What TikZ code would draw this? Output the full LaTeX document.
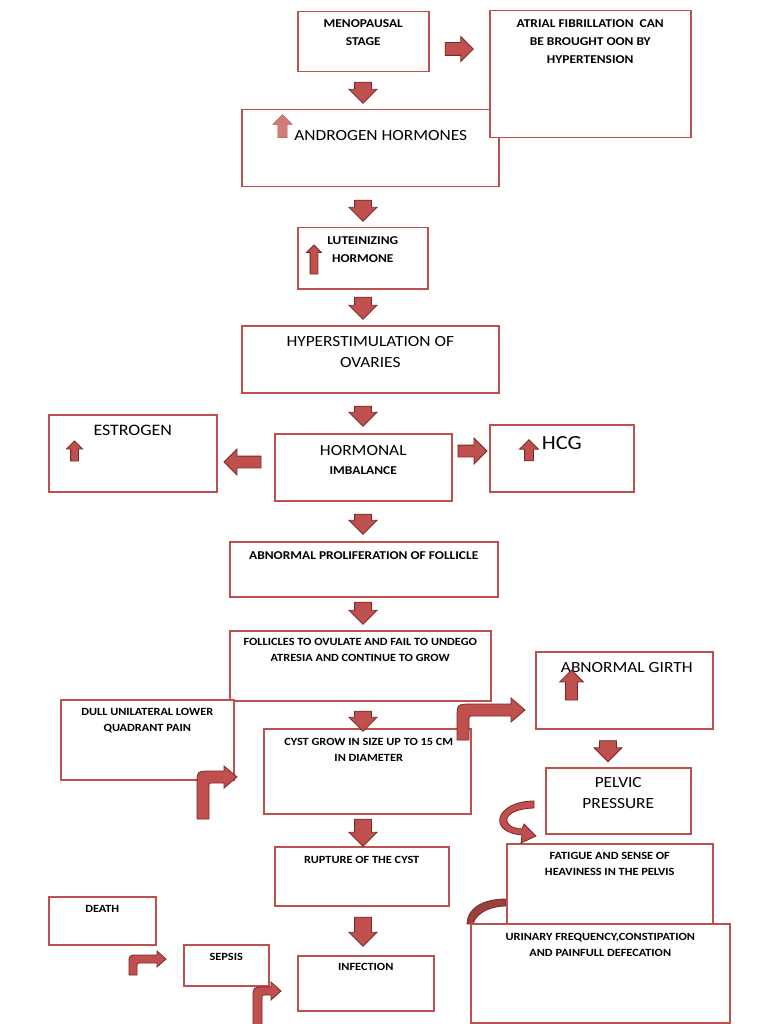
\documentclass[tikz,border=0pt]{standalone}
\usepackage{fontspec}
\setmainfont{Carlito}[FakeStretch=1.12]
\usetikzlibrary{shapes.arrows}
\definecolor{boxred}{RGB}{192,80,77}
\definecolor{arrowred}{RGB}{192,80,77}
\definecolor{arrowdark}{RGB}{120,42,40}

\tikzset{
  box/.style={draw=boxred,line width=1.5pt,fill=white,anchor=north west,inner sep=0pt},
  smalltext/.style={font=\bfseries\fontsize{12}{18}\selectfont,align=center,inner sep=0pt,anchor=north},
  lowtext/.style={font=\bfseries\fontsize{11}{15.5}\selectfont,align=center,inner sep=0pt,anchor=north},
  bigtext/.style={font=\fontsize{15.5}{21}\selectfont,align=center,inner sep=0pt,anchor=north},
  blockarrow/.style={single arrow,draw=arrowdark,fill=arrowred,line width=0.8pt,inner xsep=0pt},
  downarrow/.style={blockarrow,rotate=-90,inner ysep=8pt,single arrow head extend=5.5pt},
  uparrow/.style={blockarrow,rotate=90},
  bentarrow/.style={draw=arrowdark,fill=arrowred,line width=0.8pt},
}

\begin{document}
\begin{tikzpicture}[x=1pt,y=-1pt]
  \useasboundingbox[fill=white] (0,0) rectangle (768,1024);

  % upper chain
  \node[box,minimum width=131,minimum height=60,label={[smalltext,yshift=-8pt]north:MENOPAUSAL\\STAGE}] (meno) at (297,11) {};
  \node[box,minimum width=257,minimum height=77,label={[bigtext,yshift=-21pt,xshift=10.5pt]north:ANDROGEN HORMONES}] (andro) at (241,109) {};
  \node[box,minimum width=201,minimum height=127,label={[smalltext,yshift=-9pt]north:ATRIAL FIBRILLATION~ CAN\\BE BROUGHT OON BY\\HYPERTENSION}] (atrial) at (489,10) {};
  \node[box,minimum width=130,minimum height=61,label={[smalltext,yshift=-9pt]north:LUTEINIZING\\HORMONE}] (lh) at (297,227) {};
  \node[box,minimum width=257,minimum height=67,label={[bigtext,yshift=-11pt]north:HYPERSTIMULATION OF\\OVARIES}] (hyper) at (241,325) {};

  % hormones
  \node[box,minimum width=168,minimum height=77,label={[bigtext,font=\fontsize{16}{20}\selectfont,yshift=-11pt]north:ESTROGEN}] (estro) at (48,414) {};
  \node[box,minimum width=177,minimum height=67,label={[bigtext,yshift=-12pt]north:HORMONAL},label={[smalltext,yshift=-33.5pt]north:IMBALANCE}] (imbal) at (274,433) {};
  \node[box,minimum width=144,minimum height=67,label={[bigtext,font=\fontsize{20}{24}\selectfont,yshift=-12.5pt]north:HCG}] (hcg) at (489,424) {};

  % follicles and cyst
  \node[box,minimum width=268,minimum height=55,label={[smalltext,yshift=-10pt]north:ABNORMAL PROLIFERATION OF FOLLICLE}] (prolif) at (229,541) {};
  \node[box,minimum width=261,minimum height=70,label={[lowtext,yshift=-8.5pt]north:FOLLICLES TO OVULATE AND FAIL TO UNDEGO\\ATRESIA AND CONTINUE TO GROW}] (follic) at (229,630) {};
  \node[box,minimum width=173,minimum height=80,label={[lowtext,yshift=-9.5pt]north:DULL UNILATERAL LOWER\\QUADRANT PAIN}] (dull) at (60,699) {};
  \node[box,minimum width=177,minimum height=77,label={[bigtext,yshift=-11pt,xshift=2.5pt]north:ABNORMAL GIRTH}] (girth) at (535,651) {};
  \node[box,minimum width=207,minimum height=85,label={[lowtext,yshift=-10.5pt,xshift=1.5pt]north:CYST GROW IN SIZE UP TO 15 CM\\IN DIAMETER}] (cyst) at (263,728) {};
  \node[box,minimum width=145,minimum height=66,label={[bigtext,yshift=-10pt]north:PELVIC\\PRESSURE}] (pelvic) at (545,767) {};

  % curl behind the fatigue box
  \draw[bentarrow,fill=arrowred!80!black] (506,899) .. controls (482,899) and (467,909) .. (467,924) -- (473,924) .. controls (476,913) and (490,906) .. (506,906) -- cycle;

  % lower part
  \node[box,minimum width=206,minimum height=82,label={[lowtext,yshift=-9.5pt]north:FATIGUE AND SENSE OF\\HEAVINESS IN THE PELVIS}] (fatigue) at (506,843) {};
  \node[box,minimum width=174,minimum height=59,label={[lowtext,yshift=-10.5pt]north:RUPTURE OF THE CYST}] (rupture) at (274,846) {};
  \node[box,minimum width=107,minimum height=48,label={[lowtext,yshift=-9.5pt]north:DEATH}] (death) at (48,896) {};
  \node[box,minimum width=259,minimum height=99,label={[lowtext,yshift=-10.5pt]north:{URINARY FREQUENCY,CONSTIPATION\\AND PAINFULL DEFECATION}}] (urin) at (470,923) {};
  \node[box,minimum width=85,minimum height=41,label={[lowtext,yshift=-9.5pt]north:SEPSIS}] (sepsis) at (183,944) {};
  \node[box,minimum width=136,minimum height=55,label={[lowtext,yshift=-8.5pt]north:INFECTION}] (infect) at (297,955) {};

  % arrows down the middle
  \foreach \y/\len [count=\i] in {88.5/21,206.5/21,304/22,412/20,520/20,609/22,717/20,828.5/27,927.5/29}
    \node[downarrow,minimum height=\len] (down\i) at (363,\y) {};
  \node[downarrow,minimum height=21] (girthdown) at (608,747) {};

  % arrows to the sides
  \node[blockarrow,minimum height=28,inner ysep=6pt,single arrow head extend=6pt] (menoright) at (456,49) {};
  \node[blockarrow,minimum height=29,inner ysep=5.5pt,single arrow head extend=7pt] (imbalright) at (469.5,451) {};
  \node[blockarrow,rotate=180,minimum height=37,inner ysep=5.5pt,single arrow head extend=7pt] (imballeft) at (245.5,462) {};

  % small arrows inside the boxes
  \node[uparrow,draw=boxred,fill=boxred!75,line width=0.4pt,minimum height=23,inner ysep=4.5pt,single arrow head extend=5pt] (androup) at (282.5,128.5) {};
  \node[uparrow,minimum height=29,inner ysep=3.5pt,single arrow head extend=3.5pt] (lhup) at (314,261.5) {};
  \node[uparrow,minimum height=20,inner ysep=3.5pt,single arrow head extend=4pt] (estroup) at (74.5,453) {};
  \node[uparrow,minimum height=21,inner ysep=4pt,single arrow head extend=5pt] (hcgup) at (529,452.5) {};
  \node[uparrow,minimum height=30,inner ysep=5.5pt,single arrow head extend=6pt] (girthup) at (571.5,688) {};

  % bent arrows
  \draw[bentarrow] (457,740) -- (457,719) .. controls (457,704) .. (472,704) -- (511,704) -- (511,698) -- (525,710) -- (511,722) -- (511,716) -- (474,716) .. controls (469,716) .. (469,721) -- (469,740) -- cycle;
  \draw[bentarrow] (197,819) -- (197,785) .. controls (197,771) .. (211,771) -- (224,771) -- (224,766) -- (237,777) -- (224,788) -- (224,783) -- (213,783) .. controls (209,783) .. (209,787) -- (209,819) -- cycle;
  \draw[bentarrow] (129,975) -- (129,964) .. controls (129,955) .. (138,955) -- (157,955) -- (157,951) -- (166,959) -- (157,967) -- (157,963) -- (140,963) .. controls (137,963) .. (137,966) -- (137,975) -- cycle;
  \draw[bentarrow] (253,1030) -- (253,998) .. controls (253,987) .. (264,987) -- (271,987) -- (271,982) -- (281,991) -- (271,1000) -- (271,995) -- (265,995) .. controls (262,995) .. (262,998) -- (262,1030) -- cycle;

  % curl left of the pelvic box
  \draw[bentarrow] (534,801) .. controls (496,801) and (486,832) .. (522,835) -- (521,843) -- (536,836) -- (524,824) -- (522,829) .. controls (500,828) and (500,809) .. (534,808) -- cycle;
\end{tikzpicture}
\end{document}
